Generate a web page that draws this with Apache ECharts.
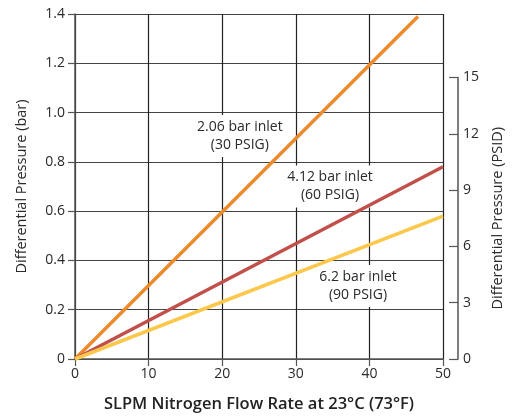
<!DOCTYPE html>
<html>
<head>
<meta charset="utf-8">
<script src="https://cdn.jsdelivr.net/npm/echarts@6/dist/echarts.min.js"></script>
<style>
html,body{margin:0;padding:0;background:#fff;}
#c{width:513px;height:419px;}
</style>
</head>
<body>
<div id="c"></div>
<script>
// Data
const xTicks = [0, 10, 20, 30, 40, 50];
const barTicks = [0, 0.2, 0.4, 0.6, 0.8, 1.0, 1.2, 1.4];
const psiTicks = [0, 3, 6, 9, 12, 15];
const flow30 = [0, 46.6];
const dp30 = [0, 1.39];
const flow60 = [0, 50];
const dp60 = [0, 0.78];
const flow90 = [0, 50];
const dp90 = [0, 0.58];
const labelTexts = ['2.06 bar inlet\n(30 PSIG)', '4.12 bar inlet\n(60 PSIG)', '6.2 bar inlet\n(90 PSIG)'];
const labelAnchorX = [22.4, 34.65, 38.45];
const labelAnchorY = [0.905, 0.70, 0.296];

const FONT = '"Open Sans", "Noto Sans", sans-serif';
const TXT = '#2a2a2a';

function pairs(xs, ys) { return xs.map((x, i) => [x, ys[i]]); }

const chart = echarts.init(document.getElementById('c'), null, {renderer: 'canvas'});
chart.setOption({
  animation: false,
  textStyle: {fontFamily: FONT},
  grid: [
    {left: 75, right: 70, top: 14, bottom: 60},
    {left: 75, right: 52, top: 77.5, bottom: 60}
  ],
  xAxis: [
    {
      type: 'value', gridIndex: 0, min: xTicks[0], max: xTicks[xTicks.length - 1], interval: 10,
      name: 'SLPM Nitrogen Flow Rate at 23°C (73°F)', nameLocation: 'middle', nameGap: 37,
      nameTextStyle: {fontSize: 16.5, fontWeight: 600, color: '#222', fontFamily: FONT},
      axisLine: {show: true, lineStyle: {color: '#555', width: 1.5}},
      axisTick: {show: true, length: 7, lineStyle: {color: '#555', width: 1.2}},
      axisLabel: {fontSize: 14, color: TXT, margin: 8, fontFamily: FONT},
      splitLine: {show: true, lineStyle: {color: '#222', width: 1.2}}
    },
    {type: 'value', gridIndex: 1, min: 0, max: 50, show: false}
  ],
  yAxis: [
    {
      type: 'value', gridIndex: 0, min: 0, max: 1.4, interval: 0.2,
      name: 'Differential Pressure (bar)', nameLocation: 'middle', nameGap: 46,
      nameTextStyle: {fontSize: 14.5, color: TXT, fontFamily: FONT},
      axisLine: {show: true, lineStyle: {color: '#555', width: 1.5}},
      axisTick: {show: true, length: 7, lineStyle: {color: '#555', width: 1.2}},
      axisLabel: {fontSize: 14, color: TXT, margin: 10, fontFamily: FONT,
        formatter: v => (Math.abs(v) < 1e-9 ? '0' : v.toFixed(1))},
      splitLine: {show: true, lineStyle: {color: '#444', width: 1.2}}
    },
    {
      type: 'value', gridIndex: 1, position: 'right', min: psiTicks[0], max: psiTicks[psiTicks.length - 1], interval: 3,
      name: 'Differential Pressure (PSID)', nameLocation: 'middle', nameGap: 28, nameRotate: 90,
      nameTextStyle: {fontSize: 14.5, color: TXT, fontFamily: FONT},
      axisLine: {show: true, onZero: false, lineStyle: {color: '#555', width: 1.5}},
      axisTick: {show: true, inside: true, length: 9, lineStyle: {color: '#555', width: 1.2}},
      axisLabel: {fontSize: 14, color: TXT, margin: 5, fontFamily: FONT},
      splitLine: {show: false}
    }
  ],
  series: [
    {type: 'line', xAxisIndex: 0, yAxisIndex: 0, data: pairs(flow30, dp30), symbol: 'none',
     lineStyle: {color: '#EC8A2E', width: 3.5}, z: 3},
    {type: 'line', xAxisIndex: 0, yAxisIndex: 0, data: pairs(flow60, dp60), symbol: 'none',
     lineStyle: {color: '#C1504A', width: 3.5}, z: 3},
    {type: 'line', xAxisIndex: 0, yAxisIndex: 0, data: pairs(flow90, dp90), symbol: 'none',
     lineStyle: {color: '#FCC84C', width: 3.5}, z: 3},
    {type: 'scatter', xAxisIndex: 0, yAxisIndex: 0, symbolSize: 0, z: 2,
     itemStyle: {opacity: 1},
     data: labelTexts.map((t, i) => ({value: [labelAnchorX[i], labelAnchorY[i]], name: t})),
     label: {show: true, position: 'inside', formatter: p => p.name, fontSize: 14, lineHeight: 18,
       color: TXT, fontFamily: FONT, backgroundColor: '#fff', padding: [3, 3, 3, 3], align: 'center'},
     emphasis: {disabled: true}, silent: true}
  ]
});
</script>
</body>
</html>
